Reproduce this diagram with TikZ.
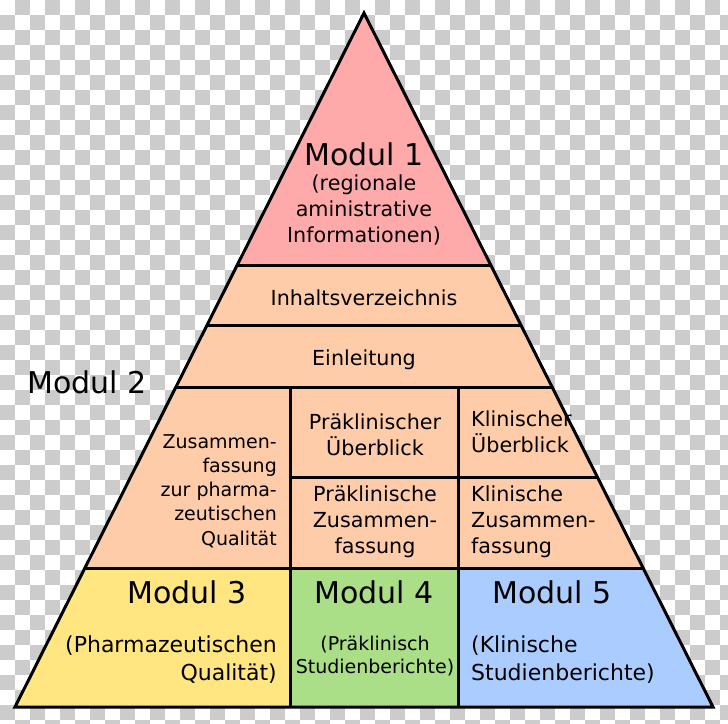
\documentclass[tikz,border=0pt]{standalone}
\usepackage{fontspec}
\setmainfont{DejaVu Sans}
\definecolor{pinkM}{HTML}{FFAAAA}
\definecolor{orangeM}{HTML}{FFCCAA}
\definecolor{yellowM}{HTML}{FFE680}
\definecolor{greenM}{HTML}{AADE87}
\definecolor{blueM}{HTML}{AACCFF}
\definecolor{checker}{HTML}{CCCCCC}
\begin{document}
\begin{tikzpicture}[x=1pt,y=-1pt,
  outline/.style={draw=black,line width=3pt},
  title/.style={inner sep=0pt,anchor=base,font=\fontsize{30}{36}\selectfont},
  txt/.style={inner sep=0pt,anchor=base,font=\fontsize{20.7}{26}\selectfont},
  smalltxt/.style={inner sep=0pt,anchor=base,font=\fontsize{19}{24.2}\selectfont},
  subA/.style={inner sep=0pt,anchor=base,font=\fontsize{22}{27.5}\selectfont},
  subB/.style={inner sep=0pt,anchor=base,font=\fontsize{19}{23}\selectfont}]
\useasboundingbox (0,0) rectangle (728,723);
\clip (0,0) rectangle (728,723);
\fill[white] (0,0) rectangle (728,723);
\foreach \r in {0,...,48}{
  \pgfmathtruncatemacro\s{mod(\r+1,2)}
  \pgfmathtruncatemacro\t{\s+2}
  \foreach \c in {\s,\t,...,48}
    \fill[checker] (\c*15,\r*15) rectangle ++(15,15);
}
% corners
\coordinate (A) at (364,13);
\coordinate (BL) at (15,707);
\coordinate (BR) at (713,707);
% fills
\fill[pinkM] (A) -- (237.3,265) -- (490.7,265) -- cycle;
\fill[orangeM] (237.3,265) -- (490.7,265) -- (643.1,568) -- (84.9,568) -- cycle;
\fill[yellowM] (84.9,568) -- (290,568) -- (290,707) -- (BL) -- cycle;
\fill[greenM] (290,568) rectangle (458,707);
\fill[blueM] (458,568) -- (643.1,568) -- (BR) -- (458,707) -- cycle;
% lines
\draw[outline] (237.3,265) -- (490.7,265);
\draw[outline] (207.1,325) -- (520.9,325);
\draw[outline] (175.9,387) -- (552.1,387);
\draw[outline] (290,477) -- (597.3,477);
\draw[outline] (84.9,568) -- (643.1,568);
\draw[outline] (290,387) -- (290,707);
\draw[outline] (458,387) -- (458,707);
\draw[outline,line join=miter] (A) -- (BL) -- (BR) -- cycle;
% texts (multi-line nodes: base = last line's baseline)
\node[title] (m1) at (364,165) {Modul 1};
\node[txt,align=center] (m1t) at (364,242) {(regionale\\aministrative\\Informationen)};
\node[txt] (inh) at (364,305) {Inhaltsverzeichnis};
\node[txt] (ein) at (364,365) {Einleitung};
\node[title,anchor=base west] (m2) at (27,393) {Modul 2};
\node[smalltxt,align=right,anchor=base east] (zus) at (277,545) {Zusammen-\\fassung\\zur pharma-\\zeutischen\\Qualität};
\node[txt,align=center] (pu) at (375,455) {Präklinischer\\Überblick};
\node[txt,align=center] (pz) at (375,553) {Präklinische\\Zusammen-\\fassung};
\node[txt,align=left,anchor=base west] (ku) at (471,452) {Klinischer\\Überblick};
\node[txt,align=left,anchor=base west] (kz) at (471,553) {Klinische\\Zusammen-\\fassung};
\node[title] (m3) at (187,603) {Modul 3};
\node[subA,align=right,anchor=base east] (m3t) at (277,680) {(Pharmazeutischen\\Qualität)};
\node[title] (m4) at (374,603) {Modul 4};
\node[subB,align=center] (m4t) at (375,673) {(Präklinisch\\Studienberichte)};
\node[title] (m5) at (552,603) {Modul 5};
\node[subA,align=left,anchor=base west] (m5t) at (471,680) {(Klinische\\Studienberichte)};
\end{tikzpicture}
\end{document}
